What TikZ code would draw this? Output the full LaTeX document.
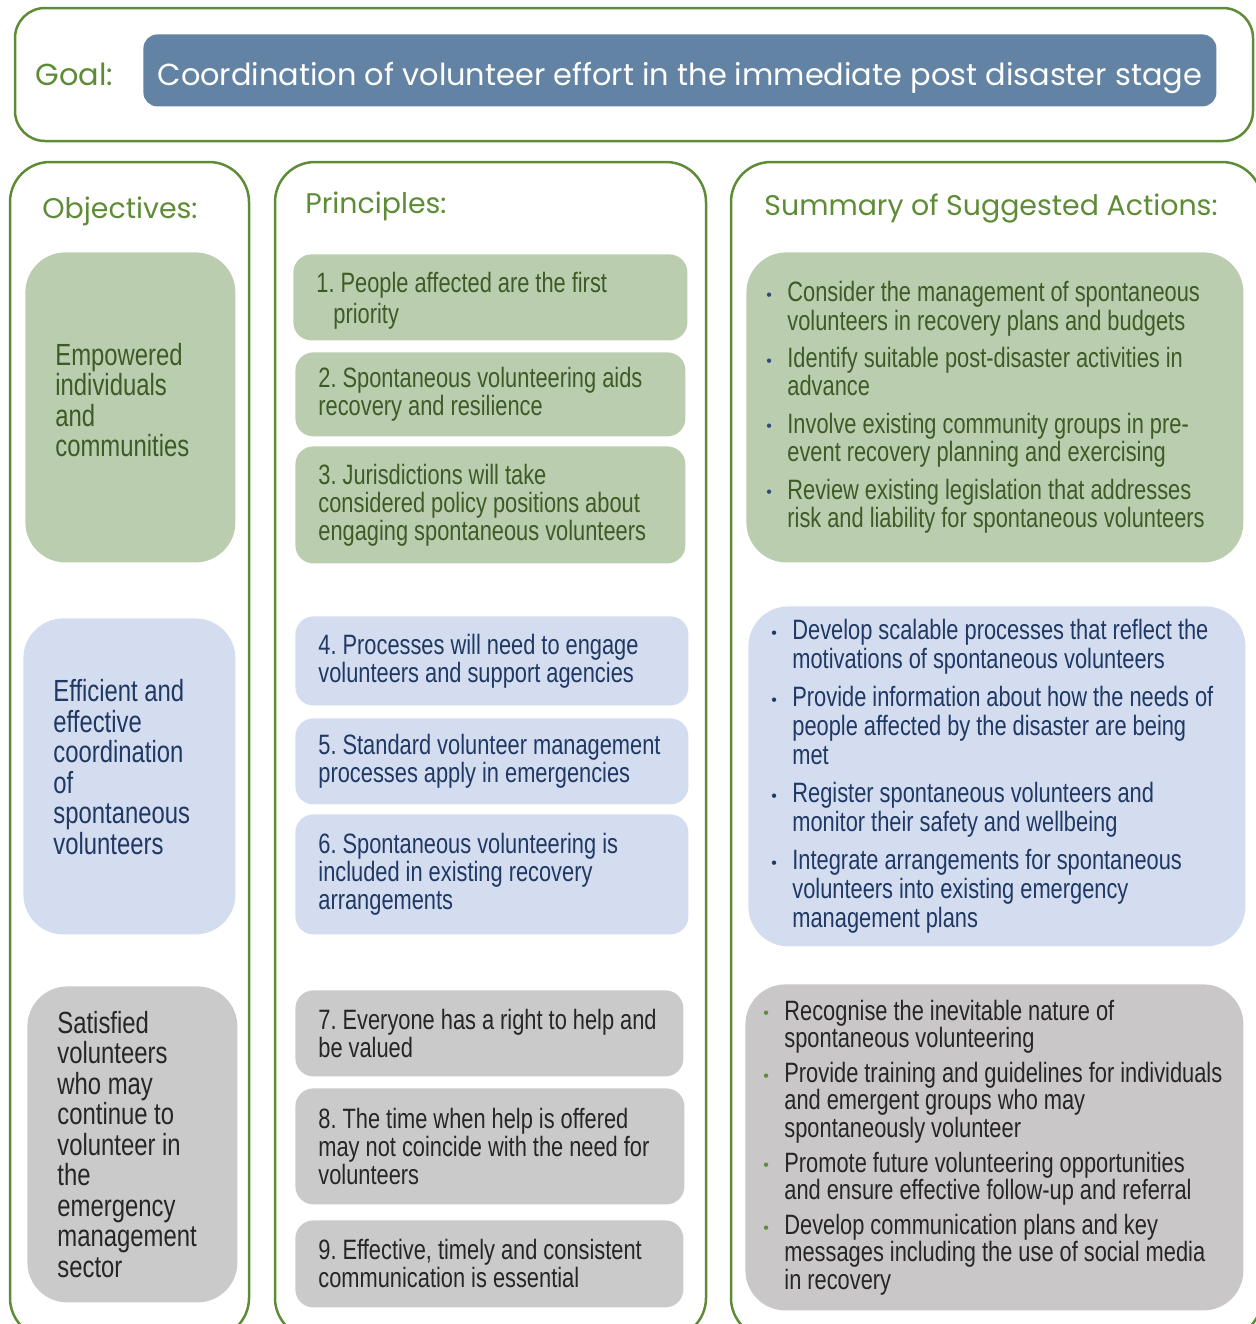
\documentclass[tikz,border=0pt]{standalone}
\usepackage{fontspec}
\setmainfont{Liberation Sans}[FakeStretch=0.78]
\newfontfamily\headfont{Poppins}
\newfontfamily\dotfont{Liberation Sans}
\usepackage{xcolor}
\definecolor{framegreen}{HTML}{5E8C36}
\definecolor{headgreen}{HTML}{5E8C36}
\definecolor{goalblue}{HTML}{6283A3}
\definecolor{greenfill}{HTML}{BBCDAF}
\definecolor{bluefill}{HTML}{D3DDEF}
\definecolor{grayfill}{HTML}{CACACA}
\definecolor{actgray}{HTML}{C9C7C7}
\definecolor{greentext}{HTML}{3D5A27}
\definecolor{bluetext}{HTML}{1F3864}
\definecolor{graytext}{HTML}{262626}
\definecolor{dotnavy}{HTML}{2F4A7A}
\frenchspacing
\hyphenpenalty=10000
\exhyphenpenalty=10000

\newcommand{\objfont}{\fontsize{15.3}{15.25}\selectfont\spaceskip=3.3pt plus 0.5pt minus 0.3pt\relax}
\newcommand{\prinfont}{\fontsize{14}{14}\selectfont\spaceskip=3pt plus 0.5pt minus 0.3pt\relax}
\newcommand{\actfont}[1]{\fontsize{14}{#1}\selectfont\spaceskip=3pt plus 0.5pt minus 0.3pt\relax}
\newcommand{\actdot}[1]{\makebox[10.5pt][l]{\raisebox{0.7pt}{\dotfont\fontsize{8}{8}\selectfont\textcolor{#1}{\textbullet}}}}
\newcommand{\actind}{\hspace*{10.5pt}}

\tikzset{
  frame/.style={draw=framegreen, line width=1.25pt, rounded corners=20pt},
  heading/.style={anchor=base west, inner sep=0pt, text=headgreen, font=\headfont\fontsize{14.2}{17}\selectfont},
  goalbox/.style={fill=goalblue, text=white, rounded corners=7pt, anchor=north west, minimum width=536.5pt, minimum height=36pt, inner sep=0pt, text height=15pt, text depth=0pt, font=\headfont\fontsize{15.2}{18}\selectfont},
  objbox/.style={rounded corners=20pt, anchor=north west, align=flush left, inner xsep=15pt, inner ysep=0pt, font=\objfont},
  prinbox/.style={rounded corners=9pt, anchor=north west, align=flush left, inner xsep=11.5pt, inner ysep=0pt, font=\prinfont},
  actbox/.style={rounded corners=20pt, anchor=north west, align=flush left, inner xsep=10pt, inner ysep=0pt, font=\actfont{14.2}},
  greenbox/.style={fill=greenfill, text=greentext},
  bluebox/.style={fill=bluefill, text=bluetext},
  graybox/.style={fill=grayfill, text=graytext},
}

\begin{document}
\begin{tikzpicture}[x=0.5pt, y=-0.5pt]
\useasboundingbox (0,0) rectangle (1255,1324);

% frames
\draw[frame, rounded corners=15pt] (15,8) rectangle (1253,141);
\draw[frame] (10,162) rectangle (249,1338);
\draw[frame] (275,162) rectangle (706,1338);
\draw[frame] (731,162) rectangle (1262,1338);

% goal
\node[heading, font=\headfont\fontsize{15.2}{18}\selectfont] (goallabel) at (35,85) {Goal:};
\node[goalbox] (goal) at (143,34) {Coordination of volunteer effort in the immediate post disaster stage};

% headings
\node[heading] (objhead) at (42,218) {Objectives:};
\node[heading] (prinhead) at (305,213) {Principles:};
\node[heading] (acthead) at (764,215) {Summary of Suggested Actions:};

% objectives
\node[objbox, greenbox, text width=75pt, minimum height=155pt] (obj1) at (25,252)
  {Empowered\\individuals\\and\\communities\\[-8pt]\mbox{}};
\node[objbox, bluebox, text width=76pt, minimum height=158pt] (obj2) at (23,618)
  {Efficient and\\effective\\coordination\\of\\spontaneous\\volunteers\\[-6pt]\mbox{}};
\node[objbox, graybox, text width=75pt, minimum height=158pt] (obj3) at (27,986)
  {Satisfied\\volunteers\\who may\\continue to\\volunteer in\\the\\emergency\\management\\sector};

% principles
\node[prinbox, greenbox, text width=174pt, minimum height=43pt] (pr1) at (293,254)
  {\mbox{}\\[-0.6pt]1. People affected are the first\\[1.5pt]\hspace*{8.5pt}priority};
\node[prinbox, greenbox, text width=172pt, minimum height=42pt] (pr2) at (295,352)
  {2. Spontaneous volunteering aids\\recovery and resilience};
\node[prinbox, greenbox, text width=172pt, minimum height=58.5pt] (pr3) at (295,446)
  {3. Jurisdictions will take\\considered policy positions about\\engaging spontaneous volunteers};
\node[prinbox, bluebox, text width=173.5pt, minimum height=44.5pt] (pr4) at (295,616)
  {4. Processes will need to engage\\volunteers and support agencies};
\node[prinbox, bluebox, text width=173.5pt, minimum height=43pt] (pr5) at (295,718)
  {5. Standard volunteer management\\processes apply in emergencies};
\node[prinbox, bluebox, text width=173.5pt, minimum height=60pt] (pr6) at (295,814)
  {6. Spontaneous volunteering is\\included in existing recovery\\arrangements};
\node[prinbox, graybox, text width=171pt, minimum height=43pt] (pr7) at (295,990)
  {7. Everyone has a right to help and\\be valued};
\node[prinbox, graybox, text width=171.5pt, minimum height=58pt] (pr8) at (295,1088)
  {8. The time when help is offered\\may not coincide with the need for\\volunteers};
\node[prinbox, graybox, text width=171pt, minimum height=43.5pt] (pr9) at (295,1220)
  {9. Effective, timely and consistent\\communication is essential};

% suggested actions
\node[actbox, greenbox, text width=228.5pt, minimum height=155pt] (act1) at (746,252)
  {\actdot{dotnavy}Consider the management of spontaneous\\\actind volunteers in recovery plans and budgets\\[4.5pt]
   \actdot{dotnavy}Identify suitable post-disaster activities in\\\actind advance\\[4.5pt]
   \actdot{dotnavy}Involve existing community groups in pre-\\\actind event recovery planning and exercising\\[4.5pt]
   \actdot{dotnavy}Review existing legislation that addresses\\\actind risk and liability for spontaneous volunteers};
\node[actbox, bluebox, inner xsep=11.5pt, text width=225.5pt, minimum height=170pt,
      font=\actfont{14.5}] (act2) at (748,606)
  {\actdot{bluetext}Develop scalable processes that reflect the\\\actind motivations of spontaneous volunteers\\[4.5pt]
   \actdot{bluetext}Provide information about how the needs of\\\actind people affected by the disaster are being\\\actind met\\[4.5pt]
   \actdot{bluetext}Register spontaneous volunteers and\\\actind monitor their safety and wellbeing\\[4.5pt]
   \actdot{bluetext}Integrate arrangements for spontaneous\\\actind volunteers into existing emergency\\\actind management plans};
\node[actbox, graybox, fill=actgray, inner xsep=9pt, text width=231pt, minimum height=163pt,
      font=\actfont{13.6}] (act3) at (745,984)
  {\actdot{framegreen}Recognise the inevitable nature of\\\actind spontaneous volunteering\\[4pt]
   \actdot{framegreen}Provide training and guidelines for individuals\\\actind and emergent groups who may\\\actind spontaneously volunteer\\[4pt]
   \actdot{framegreen}Promote future volunteering opportunities\\\actind and ensure effective follow-up and referral\\[4pt]
   \actdot{framegreen}Develop communication plans and key\\\actind messages including the use of social media\\\actind in recovery};
\end{tikzpicture}
\end{document}
